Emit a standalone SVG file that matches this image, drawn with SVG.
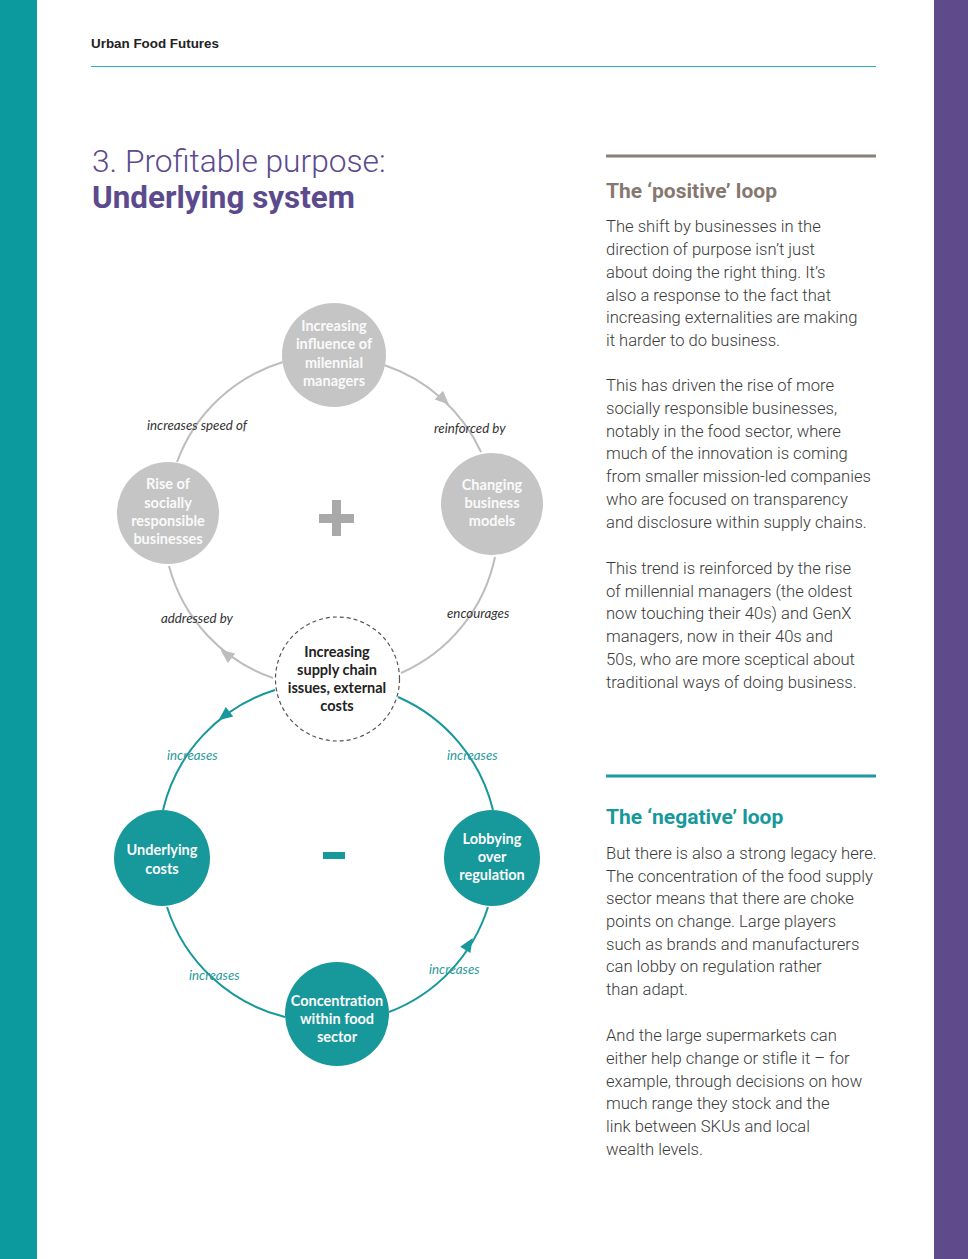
<svg xmlns="http://www.w3.org/2000/svg" width="968" height="1259" viewBox="0 0 968 1259">
<defs>
<style>
.body{font-family:Roboto,"Liberation Sans",sans-serif;font-weight:300;font-size:16.6px;fill:#3a3a3a}
.lbl{font-family:Lato,"Liberation Sans",sans-serif;font-style:italic;font-size:13.3px;fill:#333}
.lblt{font-family:Lato,"Liberation Sans",sans-serif;font-style:italic;font-size:13.3px;fill:#2a9a9c}
.nt{font-family:Lato,"Open Sans",sans-serif;font-weight:700;font-size:14.5px;fill:#fafafa;text-anchor:middle}
.ntd{font-family:Lato,"Open Sans",sans-serif;font-weight:700;font-size:14.5px;fill:#222;text-anchor:middle}
.gray{fill:#c5c5c5}
.teal{fill:#17989a}
.cg{fill:none;stroke:#bdbdbd;stroke-width:2}
.ct{fill:none;stroke:#17989a;stroke-width:2}
</style>
<path id="ah" d="M7,0 L-7,-6 L-7,6 Z"/>
</defs>
<rect width="968" height="1259" fill="#fff"/>
<rect x="0" y="0" width="37" height="1259" fill="#0c9a9e"/>
<rect x="934" y="0" width="34" height="1259" fill="#5f4b8b"/>
<g id="header">
<text x="91" y="48" font-family="'Liberation Sans',Arial,sans-serif" font-weight="700" font-size="13.4" fill="#222">Urban Food Futures</text>
<line x1="91" y1="66.5" x2="876" y2="66.5" stroke="#2bb0bd" stroke-width="1"/>
</g>
<g id="title" font-family="Roboto,'Liberation Sans',sans-serif" fill="#5c4a8e">
<text x="92" y="172" font-size="31.7" font-weight="300">3. Profitable purpose:</text>
<text x="92" y="208" font-size="31.4" font-weight="700">Underlying system</text>
</g>
<g id="connectors">
<path class="cg" d="M384,365 A163,163 0 0 1 481,452"/>
<path class="cg" d="M495,557 A163,163 0 0 1 401,673"/>
<path class="cg" d="M273,678 A163,163 0 0 1 169,566"/>
<path class="cg" d="M177,462 A163,163 0 0 1 283,362"/>
<path class="ct" d="M275,690 A166,166 0 0 0 163,810"/>
<path class="ct" d="M167,907 A166,166 0 0 0 285,1017"/>
<path class="ct" d="M389,1012 A166,166 0 0 0 488,907"/>
<path class="ct" d="M493,810 A166,166 0 0 0 398,697"/>
<use href="#ah" fill="#bdbdbd" transform="translate(444,400) rotate(43)"/>
<use href="#ah" fill="#bdbdbd" transform="translate(226,654) rotate(-142)"/>
<use href="#ah" fill="#17989a" transform="translate(224,716) rotate(142)"/>
<use href="#ah" fill="#17989a" transform="translate(469,944) rotate(-58)"/>
<text class="lbl" x="147" y="430">increases speed of</text>
<text class="lbl" x="434" y="433">reinforced by</text>
<text class="lbl" x="161" y="623">addressed by</text>
<text class="lbl" x="447" y="618">encourages</text>
<text class="lblt" x="167" y="760">increases</text>
<text class="lblt" x="447" y="760">increases</text>
<text class="lblt" x="189" y="980">increases</text>
<text class="lblt" x="429" y="974">increases</text>
</g>
<g id="node-millennial">
<circle class="gray" cx="334" cy="355" r="52"/>
<text class="nt" x="334" y="331">Increasing</text>
<text class="nt" x="334" y="349">influence of</text>
<text class="nt" x="334" y="368">milennial</text>
<text class="nt" x="334" y="386">managers</text>
</g>
<g id="node-rise">
<circle class="gray" cx="168" cy="513" r="51"/>
<text class="nt" x="168" y="489">Rise of</text>
<text class="nt" x="168" y="508">socially</text>
<text class="nt" x="168" y="526">responsible</text>
<text class="nt" x="168" y="544">businesses</text>
</g>
<g id="node-changing">
<circle class="gray" cx="492" cy="504" r="51"/>
<text class="nt" x="492" y="490">Changing</text>
<text class="nt" x="492" y="508">business</text>
<text class="nt" x="492" y="526">models</text>
</g>
<g id="plus">
<rect x="319" y="514" width="35" height="9" fill="#a9a9a9"/>
<rect x="332" y="500" width="9" height="36" fill="#a9a9a9"/>
</g>
<g id="node-supply">
<circle cx="337.5" cy="679" r="62" fill="#fff" stroke="#555" stroke-width="1.2" stroke-dasharray="4 3"/>
<text class="ntd" x="337" y="657">Increasing</text>
<text class="ntd" x="337" y="675">supply chain</text>
<text class="ntd" x="337" y="693">issues, external</text>
<text class="ntd" x="337" y="711">costs</text>
</g>
<g id="minus">
<rect x="323" y="852" width="22" height="7" fill="#17989a"/>
</g>
<g id="node-underlying">
<circle class="teal" cx="162" cy="858" r="48"/>
<text class="nt" x="162" y="855">Underlying</text>
<text class="nt" x="162" y="874">costs</text>
</g>
<g id="node-lobbying">
<circle class="teal" cx="492" cy="858" r="48"/>
<text class="nt" x="492" y="844">Lobbying</text>
<text class="nt" x="492" y="862">over</text>
<text class="nt" x="492" y="880">regulation</text>
</g>
<g id="node-concentration">
<circle class="teal" cx="337" cy="1014" r="52"/>
<text class="nt" x="337" y="1006">Concentration</text>
<text class="nt" x="337" y="1024">within food</text>
<text class="nt" x="337" y="1042">sector</text>
</g>
<g id="positive-text">
<line x1="606" y1="156" x2="876" y2="156" stroke="#8a7f78" stroke-width="3"/>
<text x="606" y="198" font-family="Roboto,'Liberation Sans',sans-serif" font-weight="700" font-size="21" fill="#857870">The ‘positive’ loop</text>
<text class="body" x="606" y="232">The shift by businesses in the</text>
<text class="body" x="606" y="255">direction of purpose isn’t just</text>
<text class="body" x="606" y="278">about doing the right thing. It’s</text>
<text class="body" x="606" y="301">also a response to the fact that</text>
<text class="body" x="606" y="323">increasing externalities are making</text>
<text class="body" x="606" y="346">it harder to do business.</text>
<text class="body" x="606" y="391">This has driven the rise of more</text>
<text class="body" x="606" y="414">socially responsible businesses,</text>
<text class="body" x="606" y="437">notably in the food sector, where</text>
<text class="body" x="606" y="459">much of the innovation is coming</text>
<text class="body" x="606" y="482">from smaller mission-led companies</text>
<text class="body" x="606" y="505">who are focused on transparency</text>
<text class="body" x="606" y="528">and disclosure within supply chains.</text>
<text class="body" x="606" y="574">This trend is reinforced by the rise</text>
<text class="body" x="606" y="597">of millennial managers (the oldest</text>
<text class="body" x="606" y="619">now touching their 40s) and GenX</text>
<text class="body" x="606" y="642">managers, now in their 40s and</text>
<text class="body" x="606" y="665">50s, who are more sceptical about</text>
<text class="body" x="606" y="688">traditional ways of doing business.</text>
</g>
<g id="negative-text">
<line x1="606" y1="776" x2="876" y2="776" stroke="#1a9aa0" stroke-width="3"/>
<text x="606" y="824" font-family="Roboto,'Liberation Sans',sans-serif" font-weight="700" font-size="21" fill="#17989a">The ‘negative’ loop</text>
<text class="body" x="606" y="859">But there is also a strong legacy here.</text>
<text class="body" x="606" y="882">The concentration of the food supply</text>
<text class="body" x="606" y="904">sector means that there are choke</text>
<text class="body" x="606" y="927">points on change. Large players</text>
<text class="body" x="606" y="950">such as brands and manufacturers</text>
<text class="body" x="606" y="972">can lobby on regulation rather</text>
<text class="body" x="606" y="995">than adapt.</text>
<text class="body" x="606" y="1041">And the large supermarkets can</text>
<text class="body" x="606" y="1064">either help change or stifle it – for</text>
<text class="body" x="606" y="1087">example, through decisions on how</text>
<text class="body" x="606" y="1109">much range they stock and the</text>
<text class="body" x="606" y="1132">link between SKUs and local</text>
<text class="body" x="606" y="1155">wealth levels.</text>
</g>
</svg>
